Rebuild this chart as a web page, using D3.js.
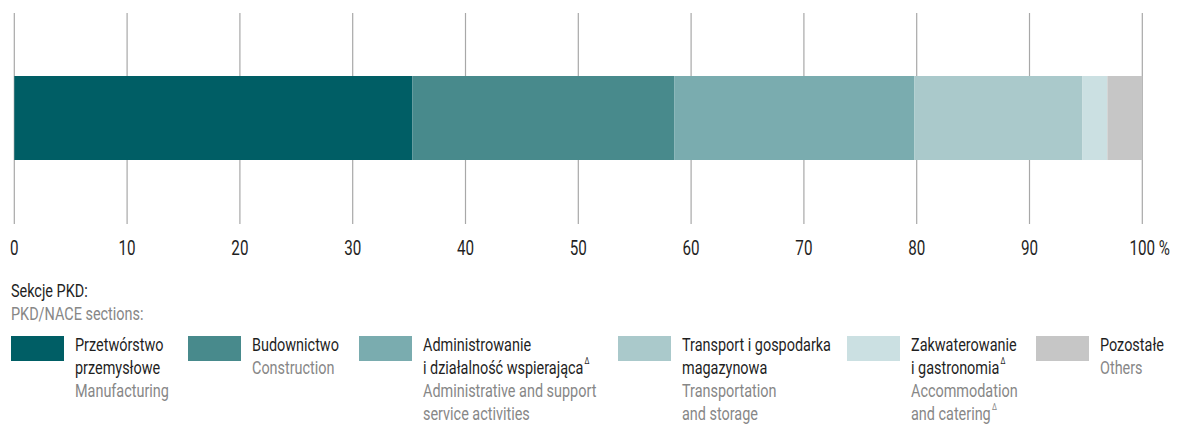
<!DOCTYPE html>
<html>
<head>
<meta charset="utf-8">
<script src="https://cdn.jsdelivr.net/npm/d3@7"></script>
<style>
  html, body { margin: 0; padding: 0; background: #fff; }
  svg { display: block; }
  text { font-family: Roboto, "Noto Sans", sans-serif; }
</style>
</head>
<body>
<svg id="chart" width="1180" height="432"></svg>
<script>
// ---- data ----
const categories = ["Przetwórstwo przemysłowe", "Budownictwo", "Administrowanie i działalność wspierająca", "Transport i gospodarka magazynowa", "Zakwaterowanie i gastronomia", "Pozostałe"];
const values = [35.3, 23.2, 21.3, 14.9, 2.2, 3.1];
const colors = ["#005e65", "#488a8c", "#7aacaf", "#aac9cb", "#cbe0e2", "#c6c6c6"];
const labelsPL = [["Przetwórstwo", "przemysłowe"], ["Budownictwo"], ["Administrowanie", "i działalność wspierająca^"], ["Transport i gospodarka", "magazynowa"], ["Zakwaterowanie", "i gastronomia^"], ["Pozostałe"]];
const labelsEN = [["Manufacturing"], ["Construction"], ["Administrative and support", "service activities"], ["Transportation", "and storage"], ["Accommodation", "and catering^"], ["Others"]];
const tickValues = [0, 10, 20, 30, 40, 50, 60, 70, 80, 90, 100];
const legendTitlePL = "Sekcje PKD:";
const legendTitleEN = "PKD/NACE sections:";

// ---- layout ----
const svg = d3.select("#chart");
const x = d3.scaleLinear().domain([0, 100]).range([14.3, 1142.3]);
const gridTop = 13, gridBottom = 224, barTop = 76, barBottom = 160;
const dark = "#1f1f1f", grey = "#878787";
const SX = 0.78;      // horizontal condensing factor to mimic a condensed face
const FS = 18.5;

function condText(parent, px, py, color, anchor, fs) {
  return parent.append("text")
    .attr("transform", `scale(${SX},1)`)
    .attr("x", px / SX).attr("y", py)
    .attr("font-size", fs || FS).attr("fill", color)
    .attr("text-anchor", anchor || "start");
}

// gridlines
svg.append("g")
  .selectAll("line").data(tickValues).join("line")
  .attr("x1", d => x(d)).attr("x2", d => x(d))
  .attr("y1", gridTop).attr("y2", gridBottom)
  .attr("stroke", "#a8a8a8").attr("stroke-width", 1.2);

// stacked bar
const starts = values.map((v, i) => d3.sum(values.slice(0, i)));
svg.append("g")
  .selectAll("rect").data(values).join("rect")
  .attr("x", (d, i) => x(starts[i]))
  .attr("width", (d, i) => x(starts[i] + d) - x(starts[i]))
  .attr("y", barTop).attr("height", barBottom - barTop)
  .attr("fill", (d, i) => colors[i]);

// axis labels (positions from the scale)
const TFS = 19.5;
const axisG = svg.append("g");
tickValues.forEach(d => {
  if (d === 100) {
    const t = condText(axisG, x(d), gridBottom + 31, dark, "start", TFS);
    t.text("100 %");
    const tmp = condText(axisG, 0, -100, dark, "start", TFS).text("100");
    const numW = tmp.node().getComputedTextLength();
    tmp.remove();
    t.attr("x", x(d) / SX - numW / 2);
  } else {
    condText(axisG, x(d), gridBottom + 31, dark, "middle", TFS).text(d);
  }
});

// legend title
condText(svg, 11, 297, dark).text(legendTitlePL);
condText(svg, 11, 320, grey).text(legendTitleEN);

// legend items
const legendX = [11, 188, 359, 618, 847, 1036];
const lineH = 23;
const lg = svg.append("g").selectAll("g").data(categories).join("g");
lg.append("rect")
  .attr("x", (d, i) => legendX[i]).attr("y", 336).attr("width", 53).attr("height", 25)
  .attr("fill", (d, i) => colors[i]);

function addLine(g, str, px, py, color) {
  const t = condText(g, px, py, color);
  if (str.endsWith("^")) {
    t.append("tspan").text(str.slice(0, -1));
    t.append("tspan").attr("font-size", 9).attr("dy", -10).attr("dx", 1.5).text("Δ");
  } else {
    t.text(str);
  }
}
lg.each(function(d, i) {
  const g = d3.select(this);
  let y = 351;
  labelsPL[i].forEach(s => { addLine(g, s, legendX[i] + 64, y, dark); y += lineH; });
  labelsEN[i].forEach(s => { addLine(g, s, legendX[i] + 64, y, grey); y += lineH; });
});
</script>
</body>
</html>
